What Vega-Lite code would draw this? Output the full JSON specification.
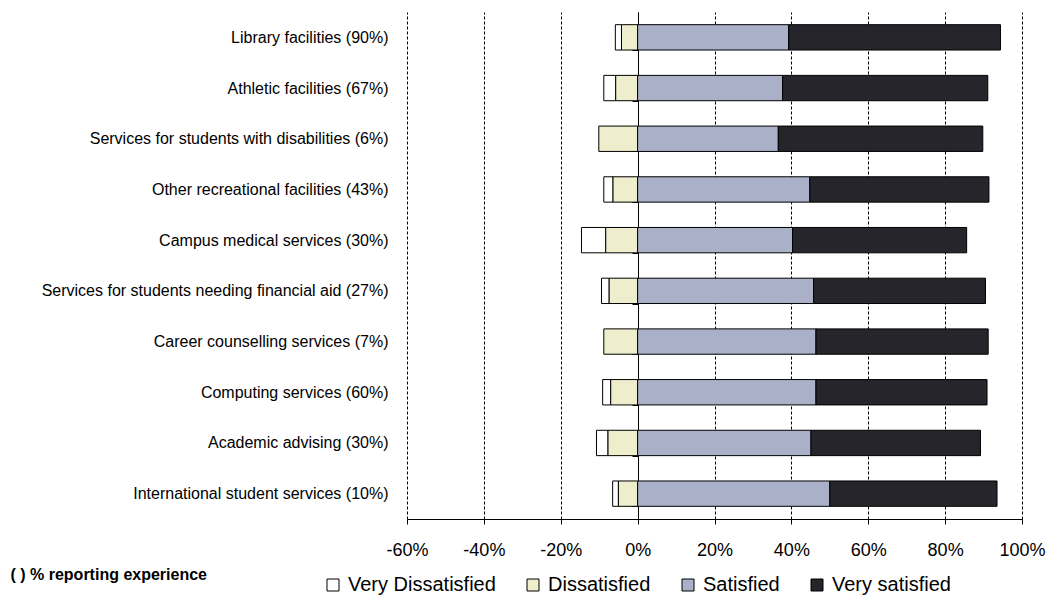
{
  "$schema": "https://vega.github.io/schema/vega-lite/v6.json",
  "width": 615,
  "height": 507,
  "autosize": {"type": "none"},
  "padding": {"left": 407, "top": 12, "right": 29, "bottom": 78},
  "background": "white",
  "config": {"view": {"stroke": null}, "font": "Liberation Sans"},
  "data": {
    "values": [
      {"item": "Library facilities (90%)", "rating": "Very Dissatisfied", "pct": -1.6},
      {"item": "Library facilities (90%)", "rating": "Dissatisfied", "pct": -4.2},
      {"item": "Library facilities (90%)", "rating": "Satisfied", "pct": 39.3},
      {"item": "Library facilities (90%)", "rating": "Very satisfied", "pct": 55.1},
      {"item": "Athletic facilities (67%)", "rating": "Very Dissatisfied", "pct": -3.1},
      {"item": "Athletic facilities (67%)", "rating": "Dissatisfied", "pct": -5.7},
      {"item": "Athletic facilities (67%)", "rating": "Satisfied", "pct": 37.7},
      {"item": "Athletic facilities (67%)", "rating": "Very satisfied", "pct": 53.4},
      {"item": "Services for students with disabilities (6%)", "rating": "Dissatisfied", "pct": -10.1},
      {"item": "Services for students with disabilities (6%)", "rating": "Satisfied", "pct": 36.6},
      {"item": "Services for students with disabilities (6%)", "rating": "Very satisfied", "pct": 53.2},
      {"item": "Other recreational facilities (43%)", "rating": "Very Dissatisfied", "pct": -2.4},
      {"item": "Other recreational facilities (43%)", "rating": "Dissatisfied", "pct": -6.4},
      {"item": "Other recreational facilities (43%)", "rating": "Satisfied", "pct": 44.8},
      {"item": "Other recreational facilities (43%)", "rating": "Very satisfied", "pct": 46.6},
      {"item": "Campus medical services (30%)", "rating": "Very Dissatisfied", "pct": -6.3},
      {"item": "Campus medical services (30%)", "rating": "Dissatisfied", "pct": -8.3},
      {"item": "Campus medical services (30%)", "rating": "Satisfied", "pct": 40.3},
      {"item": "Campus medical services (30%)", "rating": "Very satisfied", "pct": 45.3},
      {"item": "Services for students needing financial aid (27%)", "rating": "Very Dissatisfied", "pct": -2.0},
      {"item": "Services for students needing financial aid (27%)", "rating": "Dissatisfied", "pct": -7.4},
      {"item": "Services for students needing financial aid (27%)", "rating": "Satisfied", "pct": 45.8},
      {"item": "Services for students needing financial aid (27%)", "rating": "Very satisfied", "pct": 44.7},
      {"item": "Career counselling services (7%)", "rating": "Dissatisfied", "pct": -8.8},
      {"item": "Career counselling services (7%)", "rating": "Satisfied", "pct": 46.4},
      {"item": "Career counselling services (7%)", "rating": "Very satisfied", "pct": 44.8},
      {"item": "Computing services (60%)", "rating": "Very Dissatisfied", "pct": -2.1},
      {"item": "Computing services (60%)", "rating": "Dissatisfied", "pct": -7.0},
      {"item": "Computing services (60%)", "rating": "Satisfied", "pct": 46.4},
      {"item": "Computing services (60%)", "rating": "Very satisfied", "pct": 44.5},
      {"item": "Academic advising (30%)", "rating": "Very Dissatisfied", "pct": -3.0},
      {"item": "Academic advising (30%)", "rating": "Dissatisfied", "pct": -7.7},
      {"item": "Academic advising (30%)", "rating": "Satisfied", "pct": 45.1},
      {"item": "Academic advising (30%)", "rating": "Very satisfied", "pct": 44.1},
      {"item": "International student services (10%)", "rating": "Very Dissatisfied", "pct": -1.5},
      {"item": "International student services (10%)", "rating": "Dissatisfied", "pct": -5.0},
      {"item": "International student services (10%)", "rating": "Satisfied", "pct": 50.0},
      {"item": "International student services (10%)", "rating": "Very satisfied", "pct": 43.5}
    ]
  },
  "mark": {"type": "bar", "stroke": "#000000", "strokeWidth": 1},
  "encoding": {
    "y": {
      "field": "item",
      "type": "nominal",
      "sort": null,
      "scale": {"paddingInner": 0.5, "paddingOuter": 0.25},
      "axis": {
        "title": "( ) % reporting experience",
        "titleAngle": 0,
        "titleAlign": "left",
        "titleBaseline": "top",
        "titleX": -628,
        "titleY": 554,
        "titleFont": "Liberation Sans",
        "titleFontSize": 16,
        "titleFontWeight": "bold",
        "titleColor": "#000000",
        "offset": -231,
        "domainColor": "#000000",
        "domainWidth": 1,
        "tickBand": "extent",
        "tickColor": "#000000",
        "tickSize": 6,
        "labelPadding": 244,
        "labelFont": "Liberation Sans",
        "labelFontSize": 16,
        "labelColor": "#000000",
        "labelLimit": 0
      }
    },
    "x": {
      "field": "pct",
      "type": "quantitative",
      "stack": "zero",
      "scale": {"domain": [-60, 100], "nice": false, "zero": false},
      "axis": {
        "title": null,
        "values": [-60, -40, -20, 0, 20, 40, 60, 80, 100],
        "labelExpr": "datum.value + '%'",
        "grid": true,
        "gridDash": [3, 2],
        "gridColor": "#000000",
        "gridOpacity": 1,
        "domainColor": "#000000",
        "tickColor": "#000000",
        "tickSize": 5,
        "labelFontSize": 18,
        "labelColor": "#000000",
        "labelPadding": 17,
        "labelFlush": false
      }
    },
    "color": {
      "field": "rating",
      "type": "nominal",
      "scale": {
        "domain": ["Very Dissatisfied", "Dissatisfied", "Satisfied", "Very satisfied"],
        "range": ["#ffffff", "#eeeecc", "#aab0c8", "#25252b"]
      },
      "legend": {
        "title": null,
        "orient": "none",
        "direction": "horizontal",
        "columns": 4,
        "legendX": -84,
        "legendY": 563,
        "symbolType": "square",
        "symbolSize": 144,
        "symbolStrokeColor": "#000000",
        "symbolStrokeWidth": 1,
        "labelFontSize": 20,
        "labelColor": "#000000",
        "labelOffset": 5,
        "labelLimit": 0,
        "columnPadding": 27
      }
    },
    "order": {"field": "rating", "sort": "ascending"}
  }
}
